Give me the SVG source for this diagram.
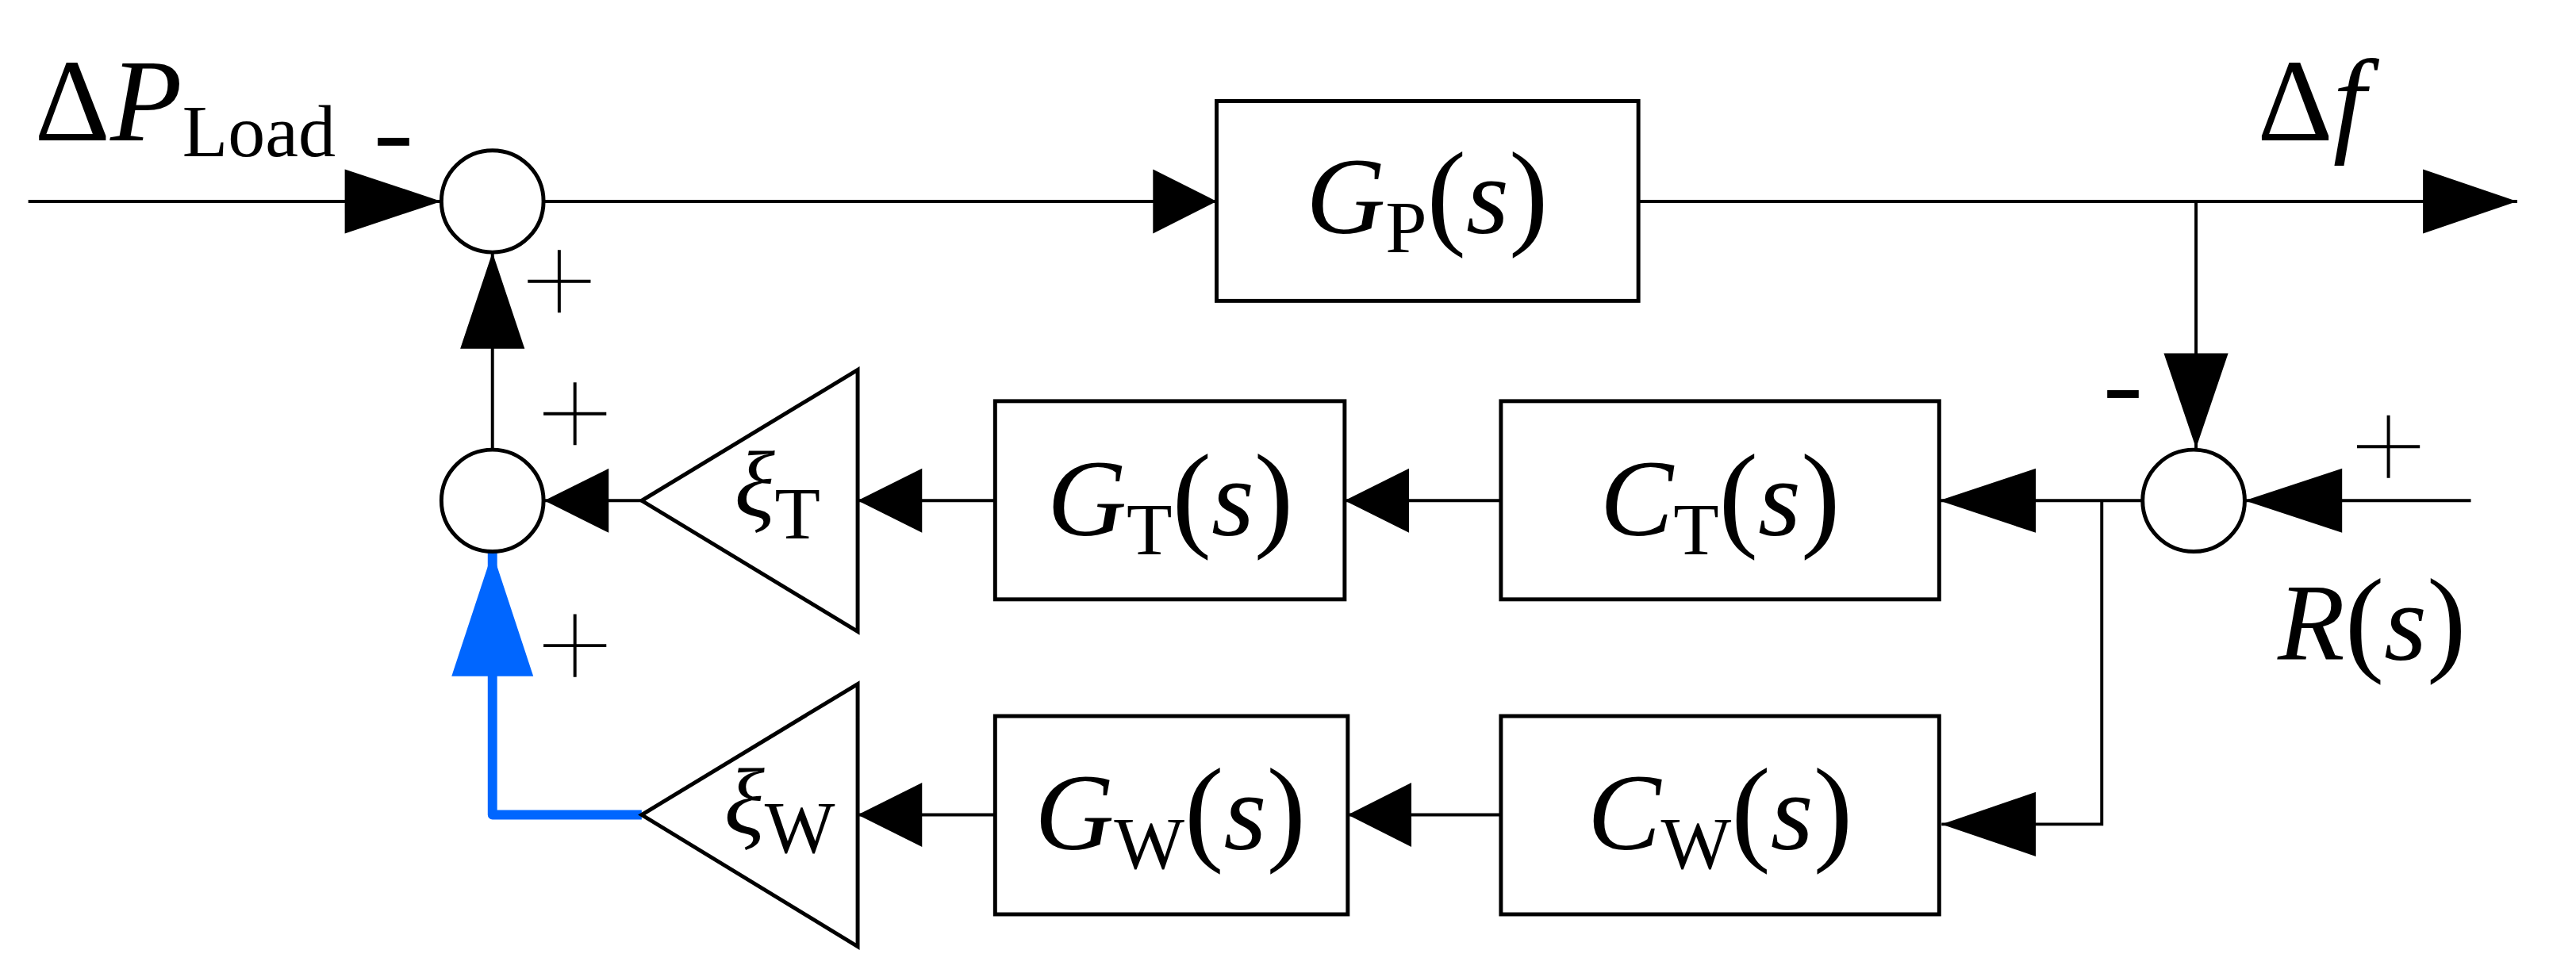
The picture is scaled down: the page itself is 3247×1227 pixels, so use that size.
<svg xmlns="http://www.w3.org/2000/svg" width="3247" height="1227" viewBox="0 0 3247 1227">
<style>
.ln{stroke:#000;stroke-width:4;fill:none}
.bx{stroke:#000;stroke-width:5;fill:#fff}
.ah{fill:#000}
.t{font-family:"Liberation Serif","Times New Roman",serif;fill:#000}
.i{font-style:italic}
.sg{stroke:#000;stroke-width:4;fill:none}
</style>
<rect width="3247" height="1227" fill="#fff"/>
<g transform="scale(0.99,0.988)">
<g id="connectors">
<path class="ln" d="M36 257H562"/>
<polygon class="ah" points="439,216 562,257 439,298"/>
<path class="ln" d="M692 257H1549"/>
<polygon class="ah" points="1468,216 1549,257 1468,298"/>
<path class="ln" d="M2086 257H3205"/>
<polygon class="ah" points="3085,216 3205,257 3085,298"/>
<path class="ln" d="M2796 257V572"/>
<polygon class="ah" points="2755,451 2837,451 2796,572"/>
<path class="ln" d="M3146 639H2858"/>
<polygon class="ah" points="2982,598 2858,639 2982,680"/>
<path class="ln" d="M2728 639H2469"/>
<polygon class="ah" points="2592,598 2469,639 2592,680"/>
<path class="ln" d="M2676 639V1052H2472"/>
<polygon class="ah" points="2592,1011 2472,1052 2592,1093"/>
<path class="ln" d="M1911 639H1712"/>
<polygon class="ah" points="1794,598 1712,639 1794,680"/>
<path class="ln" d="M1911 1040H1716"/>
<polygon class="ah" points="1797,999 1716,1040 1797,1081"/>
<path class="ln" d="M1267 639H1092"/>
<polygon class="ah" points="1174,598 1092,639 1174,680"/>
<path class="ln" d="M1267 1040H1092"/>
<polygon class="ah" points="1174,999 1092,1040 1174,1081"/>
<path class="ln" d="M817 639H692"/>
<polygon class="ah" points="775,598 693,639 775,680"/>
<path class="ln" d="M627 574V322"/>
<polygon class="ah" points="586,445 668,445 627,322"/>
<path d="M817 1040H627V705" stroke="#0066ff" stroke-width="12" fill="none" stroke-linejoin="round"/>
<polygon fill="#0066ff" points="575,863 679,863 627,705"/>
</g>
<g id="sum1"><ellipse class="bx" cx="627" cy="257" rx="65" ry="65"/></g>
<g id="sum2"><ellipse class="bx" cx="627" cy="639" rx="65" ry="65"/></g>
<g id="sum3"><ellipse class="bx" cx="2793" cy="639" rx="65" ry="65"/></g>
<g id="GP"><rect class="bx" x="1549" y="129" width="537" height="255"/>
<text class="t" x="1817" y="298" text-anchor="middle" font-size="140"><tspan class="i">G</tspan><tspan font-size="95" dy="24">P</tspan><tspan dy="-24" font-size="150">(</tspan><tspan class="i">s</tspan><tspan font-size="150">)</tspan></text></g>
<g id="GT"><rect class="bx" x="1267" y="512" width="445" height="253"/>
<text class="t" x="1490" y="683" text-anchor="middle" font-size="140"><tspan class="i">G</tspan><tspan font-size="95" dy="24">T</tspan><tspan dy="-24" font-size="150">(</tspan><tspan class="i">s</tspan><tspan font-size="150">)</tspan></text></g>
<g id="CT"><rect class="bx" x="1911" y="512" width="558" height="253"/>
<text class="t" x="2190" y="683" text-anchor="middle" font-size="140"><tspan class="i">C</tspan><tspan font-size="95" dy="24">T</tspan><tspan dy="-24" font-size="150">(</tspan><tspan class="i">s</tspan><tspan font-size="150">)</tspan></text></g>
<g id="GW"><rect class="bx" x="1267" y="914" width="449" height="253"/>
<text class="t" x="1490" y="1084" text-anchor="middle" font-size="140"><tspan class="i">G</tspan><tspan font-size="95" dy="24">W</tspan><tspan dy="-24" font-size="150">(</tspan><tspan class="i">s</tspan><tspan font-size="150">)</tspan></text></g>
<g id="CW"><rect class="bx" x="1911" y="914" width="558" height="253"/>
<text class="t" x="2190" y="1084" text-anchor="middle" font-size="140"><tspan class="i">C</tspan><tspan font-size="95" dy="24">W</tspan><tspan dy="-24" font-size="150">(</tspan><tspan class="i">s</tspan><tspan font-size="150">)</tspan></text></g>
<g id="xiT"><polygon class="bx" points="1092,472 1092,806 817,639"/>
<text class="t" x="935" y="659" font-size="120"><tspan class="i">ξ</tspan><tspan font-size="95" dy="28">T</tspan></text></g>
<g id="xiW"><polygon class="bx" points="1092,873 1092,1208 817,1040"/>
<text class="t" x="922" y="1064" font-size="120"><tspan class="i">ξ</tspan><tspan font-size="95" dy="24">W</tspan></text></g>
<g id="labels">
<text class="t" x="44" y="179" font-size="150">Δ<tspan class="i">P</tspan><tspan font-size="95" dy="20">Load</tspan></text>
<rect x="481" y="176" width="40" height="10" fill="#000"/>
<text class="t" x="2874" y="179" font-size="150">Δ<tspan class="i">f</tspan></text>
<text class="t" x="2900" y="842" font-size="140"><tspan class="i">R</tspan><tspan font-size="150">(</tspan><tspan class="i">s</tspan><tspan font-size="150">)</tspan></text>
<rect x="2683" y="498" width="40" height="10" fill="#000"/>
<path class="sg" d="M672 359H752M712 319V399"/>
<path class="sg" d="M692 528H772M732 488V568"/>
<path class="sg" d="M692 824H772M732 784V864"/>
<path class="sg" d="M3001 570H3081M3041 530V610"/>
</g>
</g>
</svg>
